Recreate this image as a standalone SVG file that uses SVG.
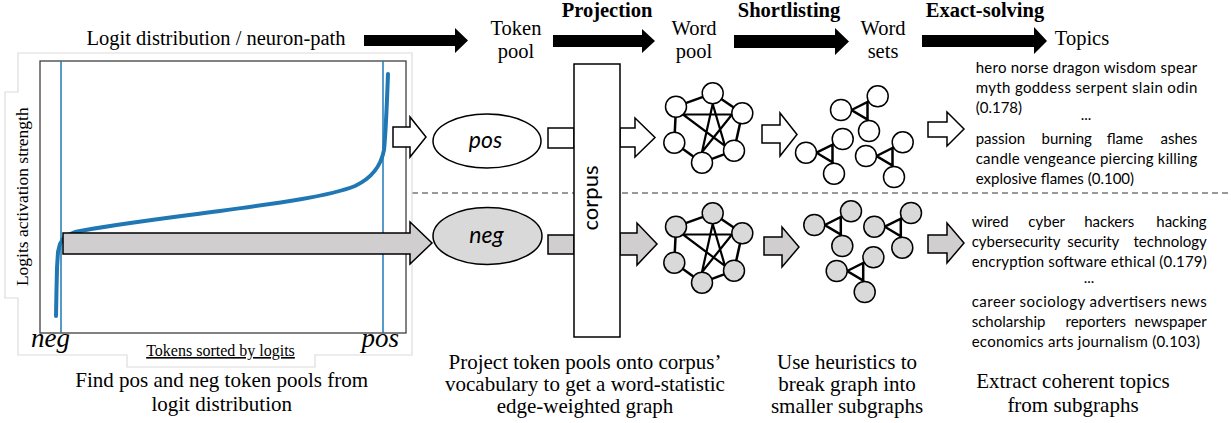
<svg xmlns="http://www.w3.org/2000/svg" xmlns:xlink="http://www.w3.org/1999/xlink" width="1231" height="423" viewBox="0 0 1231 423">
<style>
.serif{font-family:"Liberation Serif","Times New Roman",serif;fill:#000}
.sans{font-family:Lato,"Open Sans",sans-serif;fill:#000}
.hd{font-size:20.5px}
.bold{font-weight:bold}
.cap{font-size:21px}
.topic{font-size:15px}
.wa{fill:#fff;stroke:#000;stroke-width:1.5}
.ga{fill:#d0cece;stroke:#000;stroke-width:1.5}
.ha{fill:#000;stroke:none}
.edge{stroke:#000;stroke-width:2.5;fill:none;stroke-linejoin:miter}
.nd{stroke:#000;stroke-width:1.5}
</style>
<defs>
<g id="pool">
<g class="edge">
<line x1="712.7" y1="93.3" x2="676" y2="106.7"/>
<line x1="712.7" y1="93.3" x2="742.3" y2="113.3"/>
<line x1="742.3" y1="113.3" x2="734" y2="150.7"/>
<line x1="734" y1="150.7" x2="702" y2="162.7"/>
<line x1="702" y1="162.7" x2="674.3" y2="142.7"/>
<line x1="674.3" y1="142.7" x2="676" y2="106.7"/>
<path d="M712.7,104 L725,146 L683,114.5 L732,114.5 L702,152 Z" stroke-width="2.2"/>
</g>
<circle class="nd" cx="712.7" cy="93.3" r="10.5"/>
<circle class="nd" cx="676" cy="106.7" r="10.5"/>
<circle class="nd" cx="742.3" cy="113.3" r="10.5"/>
<circle class="nd" cx="674.3" cy="142.7" r="10.5"/>
<circle class="nd" cx="734" cy="150.7" r="10.5"/>
<circle class="nd" cx="702" cy="162.7" r="10.5"/>
</g>
<g id="cluster">
<g class="edge">
<polygon points="10.5,0 26.5,-8 26.5,9.5"/>
<line x1="26.5" y1="-8" x2="36.7" y2="-13.7"/>
<line x1="26.5" y1="9.5" x2="28" y2="21"/>
</g>
<circle class="nd" cx="0" cy="0" r="10.5"/>
<circle class="nd" cx="36.7" cy="-13.7" r="10.5"/>
<circle class="nd" cx="28" cy="21" r="10.5"/>
</g>
</defs>
<rect width="1231" height="423" fill="#fff"/>

<!-- header labels -->
<g id="header">
<text class="serif hd" x="216" y="45" text-anchor="middle">Logit distribution / neuron-path</text>
<text class="serif hd" x="516" y="35" text-anchor="middle">Token</text>
<text class="serif hd" x="516" y="58" text-anchor="middle">pool</text>
<text class="serif hd bold" x="607" y="17" text-anchor="middle">Projection</text>
<text class="serif hd" x="694" y="35" text-anchor="middle">Word</text>
<text class="serif hd" x="694" y="58" text-anchor="middle">pool</text>
<text class="serif hd bold" x="789" y="17" text-anchor="middle">Shortlisting</text>
<text class="serif hd" x="883" y="35" text-anchor="middle">Word</text>
<text class="serif hd" x="883" y="58" text-anchor="middle">sets</text>
<text class="serif hd bold" x="985" y="17" text-anchor="middle">Exact-solving</text>
<text class="serif hd" x="1082" y="45" text-anchor="middle">Topics</text>
</g>

<!-- dashed separator -->
<line x1="412" y1="193" x2="1228" y2="193" stroke="#999" stroke-width="2" stroke-dasharray="6 4"/>

<!-- logit plot -->
<g id="plot">
<path d="M18,92 L18,53 L412,53 L412,355 L315,355 L315,367 L127,367 L127,355 L18,355 L18,298 L5,298 L5,92 Z" fill="#fff" stroke="#dcdcdc" stroke-width="1.2"/>
<rect x="40" y="61" width="366" height="272" fill="#fff" stroke="#404040" stroke-width="1.3"/>
<line x1="61" y1="61" x2="61" y2="333" stroke="#1f77b4" stroke-width="1.5"/>
<line x1="383" y1="61" x2="383" y2="333" stroke="#1f77b4" stroke-width="1.5"/>
<path d="M56,316 L56.5,290 L57,268 L58,252 L60,244 L63,239 L68,235 L75,232 C110,225 160,219 220,211 C280,203 330,196 355,186 C372,178 381,166 384,150 C386,130 387,100 388,74" fill="none" stroke="#1f77b4" stroke-width="4" stroke-linecap="round" stroke-linejoin="round"/>
<text class="serif" font-size="17.5" transform="translate(28,196.7) rotate(-90)" text-anchor="middle">Logits activation strength</text>
<text class="serif" font-size="16" x="220.5" y="356" text-anchor="middle" text-decoration="underline">Tokens sorted by logits</text>
<text class="serif" font-size="27" font-style="italic" x="31" y="347">neg</text>
<text class="serif" font-size="27" font-style="italic" x="361.5" y="347">pos</text>
</g>

<!-- token pool nodes -->
<g id="pos-pool">
<ellipse cx="487" cy="141" rx="54" ry="27" fill="#fff" stroke="#000" stroke-width="1.5"/>
<text class="sans" font-size="23" font-style="italic" x="485.5" y="148" text-anchor="middle">pos</text>
</g>
<g id="neg-pool">
<ellipse cx="487.5" cy="236" rx="54.5" ry="28.5" fill="#d9d9d9" stroke="#000" stroke-width="1.5"/>
<text class="sans" font-size="23" font-style="italic" x="486.5" y="243" text-anchor="middle">neg</text>
</g>

<!-- connectors -->
<g id="connectors">
<polygon class="ha" points="364,35 455,35 455,28 468,40.5 455,53 455,46 364,46"/>
<polygon class="ha" points="553,35 642,35 642,29 655,41 642,53 642,47 553,47"/>
<polygon class="ha" points="734,35 835,35 835,28 849,41.5 835,55 835,48 734,48"/>
<polygon class="ha" points="922,35 1034,35 1034,27 1047,41 1034,54 1034,47 922,47"/>
<polygon class="wa" points="393,127 410,127 410,117 426,137 410,157 410,147 393,147"/>
<polygon class="ga" points="63,233 410,233 410,222 432,243 410,264 410,254 63,254"/>
<rect class="wa" x="548" y="128" width="26" height="20"/>
<rect class="ga" x="548" y="235" width="26" height="19"/>
<polygon class="wa" points="620,128 635,128 635,118 655,137.5 635,157 635,147 620,147"/>
<polygon class="ga" points="620,233 637,233 637,223 657,244 637,265 637,255 620,255"/>
<polygon class="wa" points="762,125 780,125 780,113 797,134.5 780,156 780,143 762,143"/>
<polygon class="ga" points="764,237 782,237 782,227 799,247 782,267 782,255 764,255"/>
<polygon class="wa" points="928,122 947,122 947,112 964,129 947,146 947,137 928,137"/>
<polygon class="ga" points="928,235 947,235 947,223 964,243 947,263 947,253 928,253"/>
</g>

<!-- corpus -->
<g id="corpus">
<rect x="574" y="64" width="46" height="273" fill="#fff" stroke="#000" stroke-width="1.5"/>
<text class="sans" font-size="22" transform="translate(598,198) rotate(-90)" text-anchor="middle">corpus</text>
</g>

<!-- word pools -->
<g id="pos-word-pool"><use xlink:href="#pool" fill="#fff"/></g>
<g id="neg-word-pool"><use xlink:href="#pool" fill="#d9d9d9" transform="translate(0,120)"/></g>

<!-- word sets -->
<g id="pos-word-sets" fill="#fff">
<use xlink:href="#cluster" x="841" y="110"/>
<use xlink:href="#cluster" x="806" y="152.7"/>
<use xlink:href="#cluster" x="866" y="156"/>
</g>
<g id="neg-word-sets" fill="#d9d9d9">
<use xlink:href="#cluster" x="814.3" y="225"/>
<use xlink:href="#cluster" x="874.3" y="226.7"/>
<use xlink:href="#cluster" x="836.7" y="271"/>
</g>

<!-- topics -->
<g id="pos-topics" class="sans topic">
<text x="975.7" y="73" textLength="221.6" lengthAdjust="spacing">hero norse dragon wisdom spear</text>
<text x="975.7" y="93" textLength="221.6" lengthAdjust="spacing">myth goddess serpent slain odin</text>
<text x="975.7" y="113">(0.178)</text>
<text x="1086" y="120" text-anchor="middle">...</text>
<text x="975.7" y="144">passion</text>
<text x="1066.7" y="144" text-anchor="middle">burning</text>
<text x="1125" y="144" text-anchor="middle">flame</text>
<text x="1197.3" y="144" text-anchor="end">ashes</text>
<text x="975.7" y="164" textLength="221.6" lengthAdjust="spacing">candle vengeance piercing killing</text>
<text x="975.7" y="184">explosive flames (0.100)</text>
</g>
<g id="neg-topics" class="sans topic">
<text x="971.7" y="227">wired</text>
<text x="1046.7" y="227" text-anchor="middle">cyber</text>
<text x="1109.2" y="227" text-anchor="middle">hackers</text>
<text x="1206.7" y="227" text-anchor="end">hacking</text>
<text x="971.7" y="247">cybersecurity</text>
<text x="1093.3" y="247" text-anchor="middle">security</text>
<text x="1206.7" y="247" text-anchor="end">technology</text>
<text x="971.7" y="267" textLength="235" lengthAdjust="spacing">encryption software ethical (0.179)</text>
<text x="1089" y="283" text-anchor="middle">...</text>
<text x="971.7" y="307" textLength="235" lengthAdjust="spacing">career sociology advertisers news</text>
<text x="971.7" y="327">scholarship</text>
<text x="1095.8" y="327" text-anchor="middle">reporters</text>
<text x="1206.7" y="327" text-anchor="end">newspaper</text>
<text x="971.7" y="347" textLength="228.3" lengthAdjust="spacing">economics arts journalism (0.103)</text>
</g>

<!-- captions -->
<g id="captions" class="serif cap" text-anchor="middle">
<text x="221.7" y="387">Find pos and neg token pools from</text>
<text x="221.7" y="411">logit distribution</text>
<text x="585" y="369">Project token pools onto corpus’</text>
<text x="585" y="391">vocabulary to get a word-statistic</text>
<text x="585" y="413">edge-weighted graph</text>
<text x="847" y="369">Use heuristics to</text>
<text x="847" y="391">break graph into</text>
<text x="847" y="413">smaller subgraphs</text>
<text x="1073" y="388">Extract coherent topics</text>
<text x="1073" y="412">from subgraphs</text>
</g>
</svg>
